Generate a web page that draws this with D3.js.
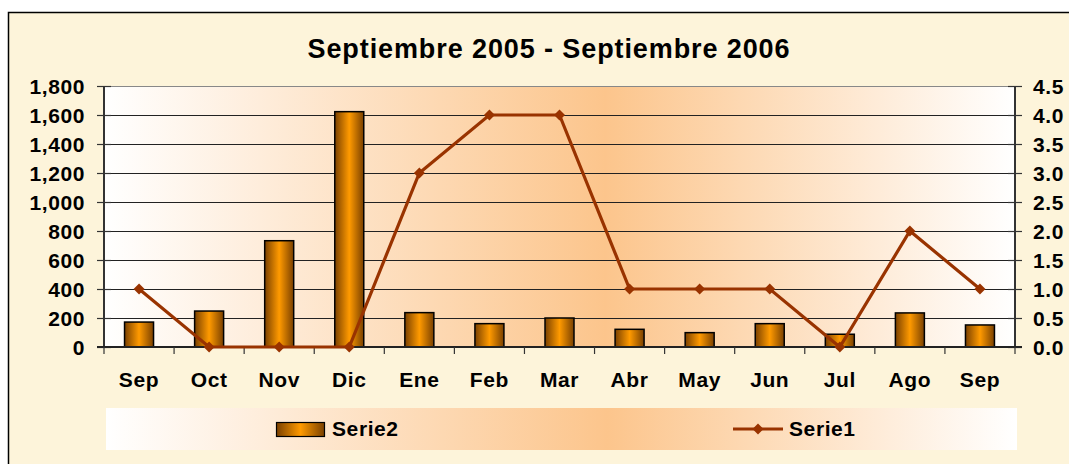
<!DOCTYPE html>
<html>
<head>
<meta charset="utf-8">
<title>Septiembre 2005 - Septiembre 2006</title>
<script src="https://d3js.org/d3.v7.min.js"></script>
<style>
    body { margin: 0; background: #fff; }
    svg text { font-family: Arial, "Liberation Sans", sans-serif; font-weight: bold; fill: #000; letter-spacing: 0.6px; }
</style>
</head>
<body>
<div id="chart"></div>
<script>
// data
const months = ["Sep", "Oct", "Nov", "Dic", "Ene", "Feb", "Mar", "Abr", "May", "Jun", "Jul", "Ago", "Sep"];
const serie2 = [172, 248, 733, 1623, 237, 161, 200, 122, 99, 161, 88, 235, 152];   // bars, left axis
const serie1 = [1, 0, 0, 0, 3, 4, 4, 1, 1, 1, 0, 2, 1];                          // line, right axis
const leftTicks = [0, 200, 400, 600, 800, 1000, 1200, 1400, 1600, 1800];
const rightTicks = [0, 0.5, 1, 1.5, 2, 2.5, 3, 3.5, 4, 4.5];

const W = 1069, H = 464;
const plot = { left: 104, right: 1015, top: 86, bottom: 347 };

const svg = d3.select("#chart").append("svg")
    .attr("width", W).attr("height", H);

const defs = svg.append("defs");

// peach band gradient used by the plot and legend
const bg = defs.append("linearGradient").attr("id", "peach");
bg.append("stop").attr("offset", "0%").attr("stop-color", "#ffffff");
bg.append("stop").attr("offset", "55%").attr("stop-color", "#fcc58c");
bg.append("stop").attr("offset", "100%").attr("stop-color", "#ffffff");

const barGrad = defs.append("linearGradient").attr("id", "barg");
barGrad.append("stop").attr("offset", "0%").attr("stop-color", "#7a4000");
barGrad.append("stop").attr("offset", "50%").attr("stop-color", "#ff9a00");
barGrad.append("stop").attr("offset", "100%").attr("stop-color", "#7a4000");

// chart area
svg.append("rect").attr("x", 0).attr("y", 0).attr("width", W).attr("height", H).attr("fill", "#fff");
svg.append("rect")
    .attr("x", 8.5).attr("y", 12.5).attr("width", W + 10).attr("height", H + 10)
    .attr("fill", "#fdf4da").attr("stroke", "#000").attr("stroke-width", 1.5);

svg.append("text")
    .attr("x", 549).attr("y", 58)
    .attr("text-anchor", "middle")
    .style("font-size", "27px").style("letter-spacing", "0.9px")
    .text("Septiembre 2005 - Septiembre 2006");

// scales
const xc = d3.scaleBand().domain(d3.range(months.length)).range([plot.left, plot.right]);
const yL = d3.scaleLinear().domain([0, 1800]).range([plot.bottom, plot.top]);
const yR = d3.scaleLinear().domain([0, 4.5]).range([plot.bottom, plot.top]);
const cx = i => xc(i) + xc.bandwidth() / 2;

svg.append("rect")
    .attr("x", plot.left).attr("y", plot.top)
    .attr("width", plot.right - plot.left).attr("height", plot.bottom - plot.top)
    .attr("fill", "url(#peach)");
svg.append("line")
    .attr("x1", plot.left).attr("x2", plot.right)
    .attr("y1", plot.top + 0.5).attr("y2", plot.top + 0.5)
    .attr("stroke", "#888").attr("stroke-width", 1);

// gridlines
svg.append("g").selectAll("line")
    .data(leftTicks.filter(d => d > 0 && d < 1800))
    .join("line")
    .attr("x1", plot.left).attr("x2", plot.right)
    .attr("y1", d => Math.round(yL(d)) + 0.5).attr("y2", d => Math.round(yL(d)) + 0.5)
    .attr("stroke", "#222").attr("stroke-width", 1);

// bars
svg.append("g").selectAll("rect")
    .data(serie2)
    .join("rect")
    .attr("x", (d, i) => cx(i) - 14.5)
    .attr("width", 29)
    .attr("y", d => yL(d))
    .attr("height", d => yL(0) - yL(d))
    .attr("fill", "url(#barg)")
    .attr("stroke", "#000").attr("stroke-width", 1.5);

// axes
const leftAxis = d3.axisLeft(yL).tickValues(leftTicks).tickSize(14).tickFormat(d3.format(","));
const gL = svg.append("g").attr("transform", `translate(${plot.left + 7},0)`).call(leftAxis);
gL.select(".domain").remove();
gL.selectAll("line").attr("stroke", "#333").attr("stroke-width", 1.2);
gL.selectAll("text").style("font-size", "21px").attr("x", -26).attr("dy", "0.36em");
svg.append("line").attr("x1", plot.left).attr("x2", plot.left)
    .attr("y1", plot.top).attr("y2", plot.bottom).attr("stroke", "#333").attr("stroke-width", 2);

const rightAxis = d3.axisRight(yR).tickValues(rightTicks).tickSize(14).tickFormat(d3.format(".1f"));
const gR = svg.append("g").attr("transform", `translate(${plot.right - 7},0)`).call(rightAxis);
gR.select(".domain").remove();
gR.selectAll("line").attr("stroke", "#333").attr("stroke-width", 1.2);
gR.selectAll("text").style("font-size", "21px").attr("x", 25).attr("dy", "0.36em");
svg.append("line").attr("x1", plot.right).attr("x2", plot.right)
    .attr("y1", plot.top).attr("y2", plot.bottom).attr("stroke", "#333").attr("stroke-width", 2);

// category axis
svg.append("line").attr("x1", plot.left - 7).attr("x2", plot.right + 7)
    .attr("y1", plot.bottom).attr("y2", plot.bottom).attr("stroke", "#222").attr("stroke-width", 2);
svg.append("g").selectAll("line")
    .data(d3.range(months.length + 1))
    .join("line")
    .attr("x1", i => plot.left + i * xc.step()).attr("x2", i => plot.left + i * xc.step())
    .attr("y1", plot.bottom).attr("y2", plot.bottom + 7)
    .attr("stroke", "#333").attr("stroke-width", 1.2);
svg.append("g").selectAll("text")
    .data(months)
    .join("text")
    .attr("x", (d, i) => cx(i))
    .attr("y", 387)
    .attr("text-anchor", "middle")
    .style("font-size", "21px")
    .text(d => d);

// line series
const lineColor = "#993300";
const diamond = "M0,-5.5L5.5,0L0,5.5L-5.5,0Z";
svg.append("path")
    .datum(serie1)
    .attr("fill", "none")
    .attr("stroke", lineColor).attr("stroke-width", 3.2)
    .attr("d", d3.line().x((d, i) => cx(i)).y(d => yR(d)));
svg.append("g").selectAll("path")
    .data(serie1)
    .join("path")
    .attr("transform", (d, i) => `translate(${cx(i)},${yR(d)})`)
    .attr("d", diamond)
    .attr("fill", lineColor);

// legend
svg.append("rect")
    .attr("x", 106).attr("y", 408).attr("width", 911).attr("height", 42)
    .attr("fill", "url(#peach)");
svg.append("rect")
    .attr("x", 276.5).attr("y", 422.5).attr("width", 48).attr("height", 14)
    .attr("fill", "url(#barg)").attr("stroke", "#000").attr("stroke-width", 1.2);
svg.append("text").attr("x", 332).attr("y", 436).style("font-size", "21px").text("Serie2");
svg.append("line")
    .attr("x1", 733).attr("x2", 783).attr("y1", 429).attr("y2", 429)
    .attr("stroke", lineColor).attr("stroke-width", 3.2);
svg.append("path").attr("transform", "translate(758,429)").attr("d", diamond).attr("fill", lineColor);
svg.append("text").attr("x", 789).attr("y", 436).style("font-size", "21px").text("Serie1");
</script>
</body>
</html>
